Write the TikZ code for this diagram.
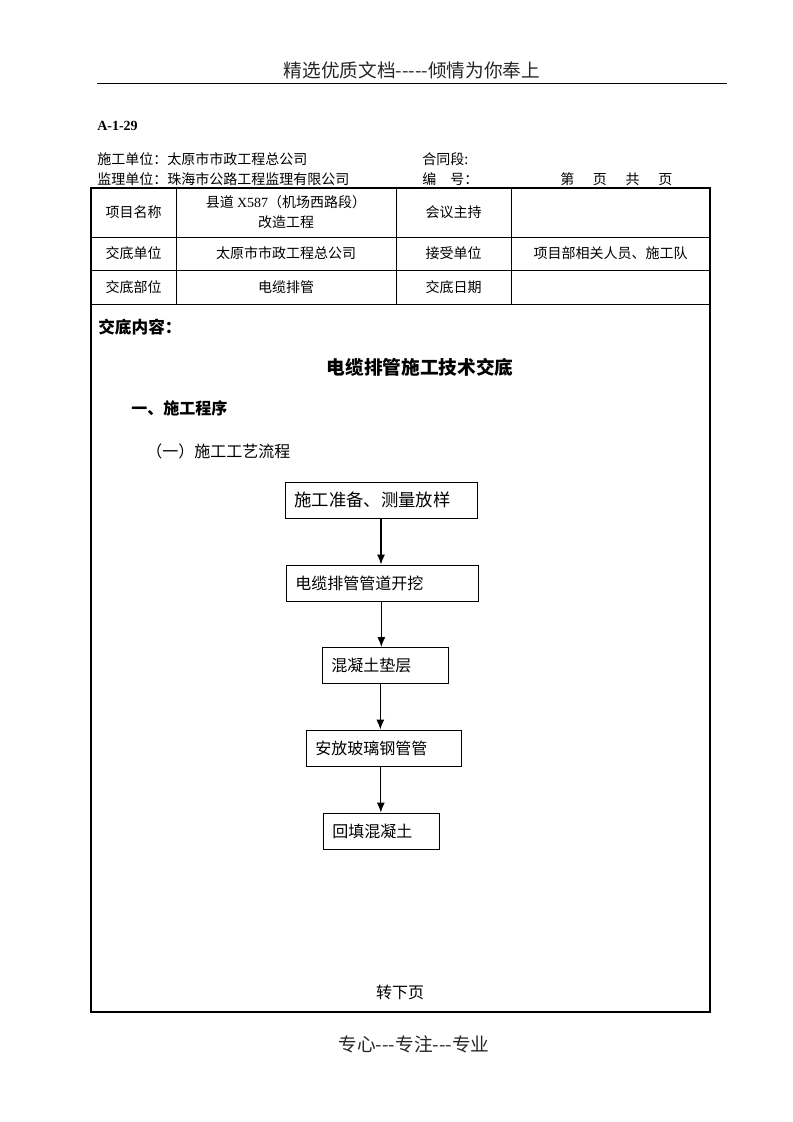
\documentclass[tikz,border=0pt]{standalone}
\usepackage{fontspec}
\setmainfont{Liberation Serif}
\newfontfamily\cjk{Noto Sans CJK SC}
\newfontfamily\lat{Liberation Serif}
\usetikzlibrary{arrows.meta}
\begin{document}
\begin{tikzpicture}[x=0.75pt,y=-0.75pt,
  txt/.style={inner sep=0pt, font=\cjk\fontsize{10.5}{13}\selectfont},
  cell/.style={inner sep=0pt, align=center, font=\cjk\fontsize{10.5}{15}\selectfont},
  fbox/.style={draw, line width=0.75pt, minimum height=27pt, inner xsep=7pt, inner ysep=0pt, align=left, font=\cjk\fontsize{12}{14}\selectfont},
  arr/.style={line width=0.8pt, -{Latex[length=7.5pt,width=6pt]}},
  thin/.style={line width=0.6pt},
  frame/.style={line width=1.5pt}]
\useasboundingbox (0,0) rectangle (793,1122);
% header
\node[inner sep=0pt, text=black!85, font=\cjk\fontsize{14}{16}\selectfont] (hdr) at (412,70) {精选优质文档-----倾情为你奉上};
\coordinate (hl) at (97,83);
\coordinate (hr) at (727,83);
\draw[line width=0.75pt] (hl) -- (hr);
\node[inner sep=0pt, anchor=west, font=\lat\bfseries\fontsize{10.5}{12}\selectfont] (code) at (97,126) {A-1-29};
\node[txt, anchor=west] (sg) at (97,159) {施工单位：太原市市政工程总公司};
\node[txt, anchor=west] (ht) at (422,159) {合同段:};
\node[txt, anchor=west] (jl) at (97,179) {监理单位：珠海市公路工程监理有限公司};
\node[txt, anchor=west] (bh) at (422,179) {编\hspace{1em}号：};
\node[txt, anchor=west] (pg) at (560,179) {第\hspace{14pt}页\hspace{14pt}共\hspace{14pt}页};
% table
\coordinate (tl) at (91,188);
\coordinate (br) at (710,1012);
\draw[thin] (91,237) -- (710,237);
\draw[thin] (91,270) -- (710,270);
\draw[thin] (91,304) -- (710,304);
\draw[thin] (176,188) -- (176,304);
\draw[thin] (396,188) -- (396,304);
\draw[thin] (511,188) -- (511,304);
\draw[frame] (tl) rectangle (br);
\node[cell] (c11) at (133.5,212) {项目名称};
\node[cell] (c12) at (286,212) {县道 {\lat X587}（机场西路段）\\改造工程};
\node[cell] (c13) at (453.5,212) {会议主持};
\node[cell] (c21) at (133.5,253) {交底单位};
\node[cell] (c22) at (286,253) {太原市市政工程总公司};
\node[cell] (c23) at (453.5,253) {接受单位};
\node[cell] (c24) at (610.5,253) {项目部相关人员、施工队};
\node[cell] (c31) at (133.5,287) {交底部位};
\node[cell] (c32) at (286,287) {电缆排管};
\node[cell] (c33) at (453.5,287) {交底日期};
% content
\node[inner sep=0pt, anchor=west, font=\cjk\bfseries\fontsize{12.5}{14}\selectfont] (jdnr) at (98,327) {交底内容：};
\node[inner sep=0pt, font=\cjk\bfseries\fontsize{14}{16}\selectfont] (title) at (420,367) {电缆排管施工技术交底};
\node[inner sep=0pt, anchor=west, font=\cjk\bfseries\fontsize{12}{14}\selectfont] (s1) at (131,408) {一、施工程序};
\node[inner sep=0pt, anchor=west, font=\cjk\fontsize{12}{14}\selectfont] (s11) at (146,451) {（一）施工工艺流程};
% flow
\node[fbox, minimum width=144pt, text width=130pt, font=\cjk\fontsize{13}{15}\selectfont] (b1) at (381,500) {施工准备、测量放样};
\node[fbox, minimum width=144pt, text width=130pt] (b2) at (382,583) {电缆排管管道开挖};
\node[fbox, minimum width=94.5pt, text width=80.5pt] (b3) at (385,665.5) {混凝土垫层};
\node[fbox, minimum width=116.25pt, text width=102.25pt] (b4) at (383.5,748) {安放玻璃钢管管};
\node[fbox, minimum width=87pt, text width=73pt] (b5) at (381,831) {回填混凝土};
\draw[arr] (b1.south) -- (b1.south |- b2.north);
\draw[arr] ([xshift=-0.5pt]b2.south) -- ([xshift=-0.5pt]b2.south |- b3.north);
\draw[arr] ([xshift=-3.5pt]b3.south) -- ([xshift=-3.5pt]b3.south |- b4.north);
\draw[arr] ([xshift=-2pt]b4.south) -- ([xshift=-2pt]b4.south |- b5.north);
\node[inner sep=0pt, font=\cjk\fontsize{12}{14}\selectfont] (next) at (400,992) {转下页};
% footer
\node[inner sep=0pt, text=black!85, font=\cjk\fontsize{14}{16}\selectfont] (ftr) at (414,1044) {专心---专注---专业};
\end{tikzpicture}
\end{document}
